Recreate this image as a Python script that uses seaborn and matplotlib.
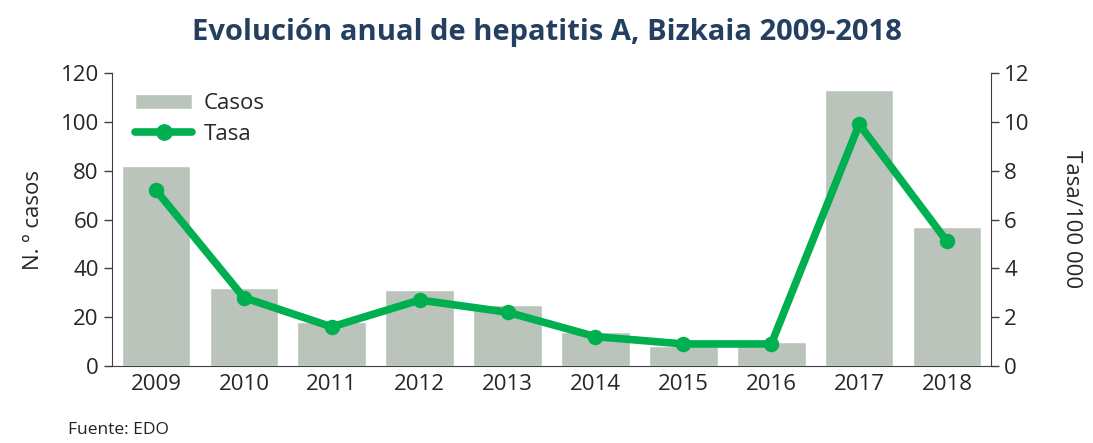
import seaborn as sns
import numpy as np
import matplotlib.pyplot as plt
import pandas as pd
from matplotlib.patches import Patch
from matplotlib.lines import Line2D

years = ["2009", "2010", "2011", "2012", "2013", "2014", "2015", "2016", "2017", "2018"]
casos = [82, 32, 18, 31, 25, 14, 8, 10, 113, 57]
tasa = [7.2, 2.8, 1.6, 2.7, 2.2, 1.2, 0.9, 0.9, 9.9, 5.1]

sns.set_style("white")
plt.rcParams['font.family'] = ['Open Sans', 'DejaVu Sans']

bar_color = "#BAC4BA"
line_color = "#00B050"

df = pd.DataFrame({"Año": years, "Casos": casos, "Tasa": tasa})

fig = plt.figure(figsize=(10.93, 4.43), dpi=100)
ax = fig.add_axes([0.1025, 0.174, 0.8042, 0.661])
sns.barplot(data=df, x="Año", y="Casos", color=bar_color, width=0.78, saturation=1, ax=ax)
ax.set_ylim(0, 120)
ax.set_yticks(np.arange(0, 121, 20))
ax.set_xlim(-0.5, 9.5)
ax.set_xlabel("")
ax.set_ylabel("N. º casos", fontsize=16, labelpad=12)
ax.tick_params(axis="both", labelsize=16)
ax.tick_params(axis="y", direction="out", length=6, width=1, color="#404040", left=True)
ax.tick_params(axis="x", length=0, pad=6)

ax2 = ax.twinx()
sns.pointplot(data=df, x="Año", y="Tasa", color=line_color, markers="o", linewidth=5.5,
              markersize=7, ax=ax2)
ax2.set_ylim(0, 12)
ax2.set_yticks(np.arange(0, 13, 2))
ax2.set_xlim(-0.5, 9.5)
ax2.set_xlabel("")
ax2.set_ylabel("Tasa/100 000", fontsize=16, rotation=270, labelpad=38)
ax2.tick_params(axis="y", labelsize=16, direction="out", length=6, width=1, color="#404040", right=True)

for a in (ax, ax2):
    a.spines["top"].set_visible(False)
    for s in a.spines.values():
        s.set_color("#404040")
ax.spines["right"].set_visible(False)
ax2.spines["left"].set_visible(False)
ax2.spines["bottom"].set_visible(False)

handles = [Patch(facecolor=bar_color, label="Casos"),
           Line2D([0], [0], color=line_color, lw=5.5, marker="o", markersize=11, label="Tasa")]
ax.legend(handles=handles, loc="upper left", frameon=False, fontsize=16,
          bbox_to_anchor=(0.003, 1.0), handlelength=2.6, labelspacing=0.45, handletextpad=0.5)

fig.text(0.5, 0.91, "Evolución anual de hepatitis A, Bizkaia 2009-2018", ha="center",
         fontsize=21, fontweight="bold", color="#243F60")
fig.text(0.062, 0.02, "Fuente: EDO", fontsize=12.5, color="#222222")

fig.savefig("out.png", dpi=100)
